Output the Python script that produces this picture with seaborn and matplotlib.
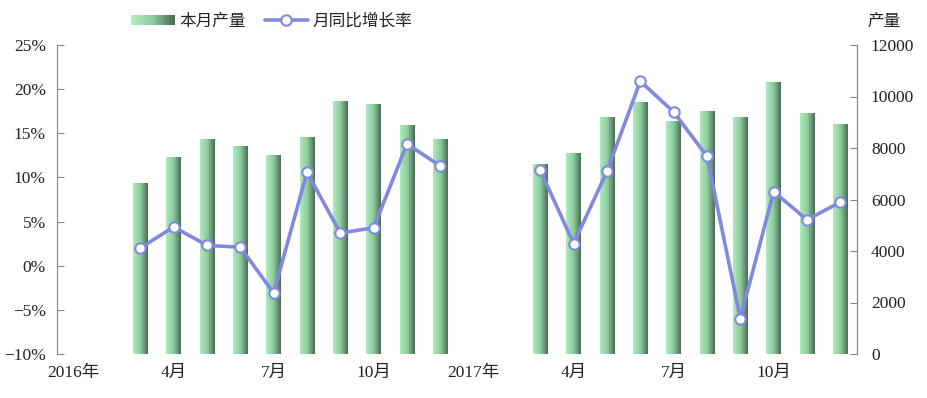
import numpy as np
import pandas as pd
import matplotlib
matplotlib.use("Agg")
import matplotlib.pyplot as plt
import seaborn as sns
from matplotlib.colors import LinearSegmentedColormap
from matplotlib.legend_handler import HandlerBase
from matplotlib.lines import Line2D
from matplotlib.patches import Rectangle

# month labels, 2016-01 .. 2017-12
month_labels = ["2016年", "", "", "4月", "", "", "7月", "", "", "10月", "", "",
                "2017年", "", "", "4月", "", "", "7月", "", "", "10月", "", ""]
years = [2016] * 12 + [2017] * 12

# 本月产量 (right axis)
output_2016 = [np.nan, np.nan, 6650, 7640, 8340, 8060, 7710, 8410, 9820, 9700, 8880, 8340]
output_2017 = [np.nan, np.nan, 7360, 7790, 9190, 9780, 9040, 9430, 9190, 10560, 9350, 8920]

# 月同比增长率 (left axis, %)
yoy_2016 = [np.nan, np.nan, 2.0, 4.4, 2.3, 2.1, -3.1, 10.6, 3.7, 4.3, 13.8, 11.3]
yoy_2017 = [np.nan, np.nan, 10.8, 2.5, 10.7, 20.9, 17.4, 12.4, -6.0, 8.4, 5.2, 7.2]

bar_left = "#b0eabd"
bar_right = "#4a6b55"
line_color = "#8088e0"
text_color = "#222222"

sns.set_style("white")
plt.rcParams["font.family"] = ["Liberation Serif", "Noto Sans CJK SC", "DejaVu Sans"]

df = pd.DataFrame({
    "pos": np.arange(24),
    "month": [f"{y}-{m:02d}" for y in (2016, 2017) for m in range(1, 13)],
    "year": years,
    "output": output_2016 + output_2017,
    "yoy": yoy_2016 + yoy_2017,
})

fig = plt.figure(figsize=(9.28, 3.98), dpi=100)
ax = fig.add_axes([57 / 928, 44 / 398, 800 / 928, 309 / 398])

sns.barplot(data=df, x="month", y="output", order=df["month"], width=0.43,
            color=bar_left, ax=ax)

# horizontal gradient on each bar
cmap = LinearSegmentedColormap.from_list("bar", [bar_left, "#8ccc9c", bar_right])
grad = np.linspace(0, 1, 64).reshape(1, -1)
for p in ax.patches:
    if np.isnan(p.get_height()) or p.get_height() == 0:
        continue
    x0, w, h = p.get_x(), p.get_width(), p.get_height()
    p.set_facecolor("none")
    p.set_edgecolor("none")
    im = ax.imshow(grad, cmap=cmap, aspect="auto", extent=[x0, x0 + w, 0, h],
                   origin="lower", zorder=2, interpolation="bilinear")
    im.set_clip_path(p)
ax.set_ylim(0, 12000)
ax.set_xlim(-0.5, 23.5)

ax2 = ax.twinx()
sns.lineplot(data=df.dropna(subset=["yoy"]), x="pos", y="yoy", units="year", estimator=None,
             color=line_color, linewidth=2.6, marker="o", markersize=7.5,
             markerfacecolor="white", markeredgecolor=line_color, markeredgewidth=1.5,
             ax=ax2, legend=False, zorder=5)
ax2.set_ylim(-10, 25)
ax2.set_xlim(-0.5, 23.5)

# swap sides: percent on the left, output on the right
ax.yaxis.tick_right()
ax.yaxis.set_label_position("right")
ax2.yaxis.tick_left()
ax2.yaxis.set_label_position("left")

ax.set_yticks(np.arange(0, 12001, 2000))
ax2.set_yticks(np.arange(-10, 26, 5))
ax2.set_yticklabels([f"{v}%".replace("-", "\u2212") for v in range(-10, 26, 5)])

ax.set_xticks(range(24))
ax.set_xticklabels(month_labels)
ax.set_xlabel("")
ax.set_ylabel("")
ax2.set_xlabel("")
ax2.set_ylabel("")

for a in (ax, ax2):
    for s in ("top", "bottom"):
        a.spines[s].set_visible(False)
    a.spines["left"].set_color("#888888")
    a.spines["right"].set_color("#888888")
    a.tick_params(colors=text_color, labelsize=12.5)

ax.spines["left"].set_visible(False)
ax.tick_params(axis="x", length=0, pad=8)
ax.tick_params(axis="y", direction="in", length=5, color="#888888", pad=10)
ax2.tick_params(axis="y", direction="in", length=5, color="#888888", pad=8)
ax2.tick_params(axis="x", bottom=False, labelbottom=False)

fig.text(884 / 928, 1 - 22 / 398, "产量", ha="center", va="center",
         fontsize=12, color=text_color)


class GradientHandler(HandlerBase):
    def create_artists(self, legend, orig_handle, xdescent, ydescent, width, height,
                       fontsize, trans):
        n = 30
        arts = []
        for i in range(n):
            r = Rectangle((-xdescent + width * i / n, -ydescent + height * 0.1),
                          width / n + 0.3, height * 0.8,
                          facecolor=cmap(i / (n - 1)), edgecolor="none", transform=trans)
            arts.append(r)
        return arts


bar_handle = Rectangle((0, 0), 1, 1)
line_handle = Line2D([], [], color=line_color, linewidth=2.6, marker="o", markersize=7.5,
                     markerfacecolor="white", markeredgecolor=line_color, markeredgewidth=1.5)
fig.legend([bar_handle, line_handle], ["本月产量", "月同比增长率"],
           handler_map={Rectangle: GradientHandler()},
           loc="center", bbox_to_anchor=(272 / 928, 1 - 22 / 398), ncol=2,
           frameon=False, fontsize=12, handlelength=2.6, handletextpad=0.3,
           columnspacing=1.1, labelcolor=text_color)

fig.savefig("out.png", dpi=100)
